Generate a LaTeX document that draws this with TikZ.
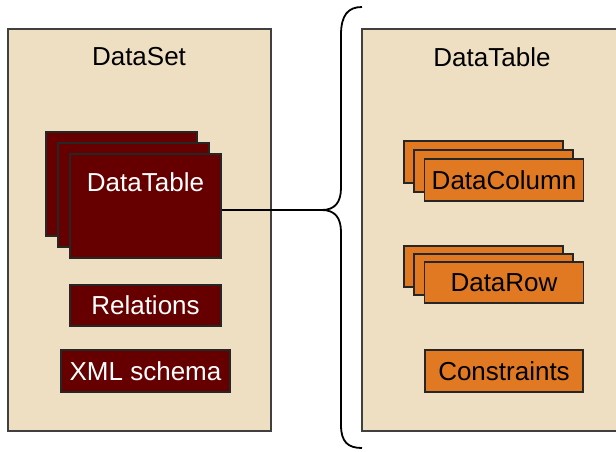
\documentclass[tikz,border=0pt]{standalone}
\usepackage{fontspec}
\setmainfont{Liberation Sans}
\usetikzlibrary{positioning}
\definecolor{panelfill}{HTML}{EEDFC2}
\definecolor{darkred}{HTML}{660000}
\definecolor{orangebox}{HTML}{E07922}

\begin{document}
\begin{tikzpicture}[x=1pt, y=-1pt,
  panel/.style={draw=black!75, line width=1.5pt, fill=panelfill},
  redbox/.style={draw=black!85, line width=1.8pt, fill=darkred, text=white, inner sep=0pt, font=\fontsize{26}{30}\selectfont},
  orbox/.style={draw=black!85, line width=1.8pt, fill=orangebox, inner sep=0pt, font=\fontsize{26}{30}\selectfont},
  title/.style={font=\fontsize{26}{30}\selectfont}]
\useasboundingbox (0,0) rectangle (616,452);
% the two panels
\draw[panel] (8,29) rectangle (271,431);
\draw[panel] (362,29) rectangle (630,431);
\node[title] (dataset) at (139,57) {DataSet};
\node[title] (datatable) at (492,57) {DataTable};

% left side: stack of tables and the two boxes
\node[redbox, minimum width=151pt, minimum height=104pt] (dtback) at (121.5,184) {};
\node[redbox, minimum width=151pt, minimum height=104pt] (dtmid) at (133.5,195) {};
\node[redbox, minimum width=151pt, minimum height=104pt] (dtfront) at (145.5,206) {};
\node[text=white, font=\fontsize{26}{30}\selectfont] (dtlabel) at (145.5,182) {DataTable};
\node[redbox, minimum width=151pt, minimum height=41pt] (relations) at (145.5,305.5) {Relations};
\node[redbox, minimum width=169pt, minimum height=42pt] (schema) at (145.5,371) {XML schema};

% right side
\node[orbox, minimum width=159pt, minimum height=42pt] (colback) at (483.5,162) {};
\node[orbox, minimum width=159pt, minimum height=42pt] (colmid) at (493.5,171) {};
\node[orbox, minimum width=159pt, minimum height=42pt] (colfront) at (504,180) {DataColumn};
\node[orbox, minimum width=159pt, minimum height=41pt] (rowback) at (483.5,266.5) {};
\node[orbox, minimum width=159pt, minimum height=41pt] (rowmid) at (493.5,274.5) {};
\node[orbox, minimum width=159pt, minimum height=41pt] (rowfront) at (504,282.5) {DataRow};
\node[orbox, minimum width=158pt, minimum height=42pt] (constraints) at (504,371) {Constraints};

% brace
\coordinate (tip) at (322,210);
\draw[line width=1.8pt] (dtfront.east |- tip) -- (tip);
\draw[line width=1.8pt] (tip) .. controls (335,210) and (341,202) .. (341,188) -- (341,35) .. controls (341,15) and (348,7) .. (362,7);
\draw[line width=1.8pt] (tip) .. controls (335,210) and (341,218) .. (341,232) -- (341,425) .. controls (341,442) and (348,448) .. (362,448);
\end{tikzpicture}
\end{document}
